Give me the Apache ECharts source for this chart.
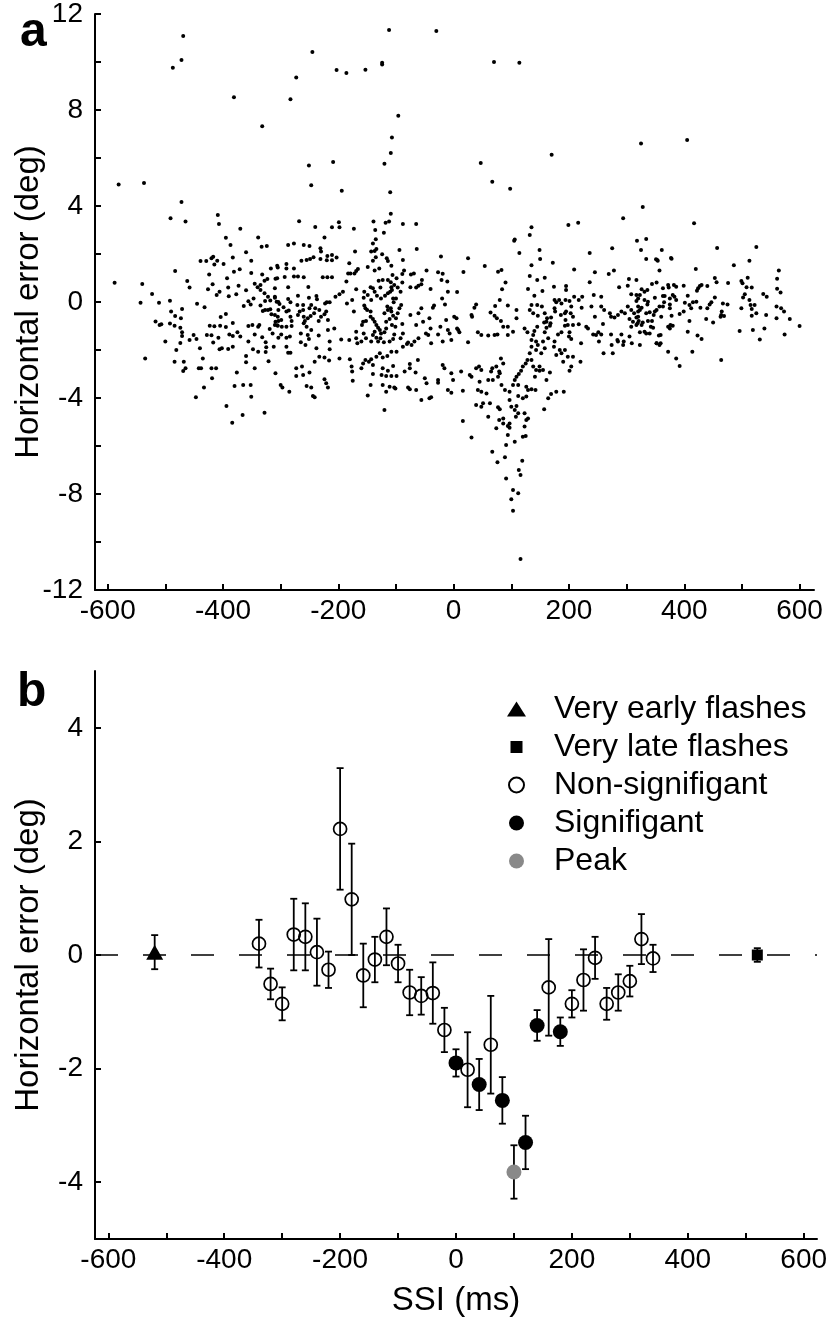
<!DOCTYPE html>
<html>
<head>
<meta charset="utf-8">
<title>Horizontal error vs SSI</title>
<script src="https://cdn.jsdelivr.net/npm/echarts@6/dist/echarts.min.js"></script>
<style>
  html, body { margin: 0; padding: 0; background: #fff; }
  #chart { width: 830px; height: 1330px; }
</style>
</head>
<body>
<div id="chart"></div>
<script>
// ---- panel a: single trials (SSI ms, horizontal error deg) ----
const trialPoints = [
  [-581,4.9],[-588,0.8],[-537,4.96],[-540,0.75],[-523,0.33],[-543,-0.03],[-511,-0.03],[-487,9.76],[-472,10.08],[-469,11.08],
  [-472,4.17],[-491,3.49],[-465,3.35],[-483,1.29],[-462,0.88],[-458,0.6],[-492,0.05],[-381,8.53],[-332,7.32],[-283,8.45],
  [-273,9.35],[-245,10.42],[-203,9.67],[-186,9.54],[-153,9.68],[-124,9.9],[-124,9.97],[-112,11.33],[-96,7.76],[-107,6.85],
  [-109,6.21],[-120,5.76],[-251,5.69],[-247,4.86],[-209,5.83],[-194,4.64],[-110,4.57],[-109,3.68],[-409,3.62],[-407,3.25],
  [-370,3.05],[-395,2.68],[-387,2.38],[-268,3.36],[-240,3.13],[-211,3.11],[-199,3.32],[-198,3.11],[-173,3.05],[-139,3.35],
  [-136,3.0],[-121,2.89],[-118,3.3],[-112,3.35],[-88,3.25],[-65,3.25],[-339,2.69],[-277,2.44],[-224,2.69],[-135,2.61],[-140,2.44],
  [-30,11.29],[70,10.0],[114,9.97],[47,5.79],[67,5.01],[98,4.72],[170,6.14],[325,6.6],[405,6.75],[328,3.96],
  [294,3.49],[417,3.28],[135,3.11],[132,2.79],[199,3.21],[216,3.3],[105,2.55],[106,2.6],[114,2.04],[-64,2.21],
  [-22,1.9],[25,1.82],[54,1.5],[17,1.25],[6,0.42],[275,2.24],[236,2.04],[149,2.17],[150,1.79],[135,1.53],
  [172,1.64],[318,2.55],[334,2.63],[325,2.17],[334,1.79],[351,1.78],[353,1.75],[361,2.17],[377,1.83],[378,1.8],
  [357,1.31],[420,1.38],[457,2.25],[486,1.53],[525,2.29],[513,1.72],[564,1.31],[561,0.97],[567,0.4],[561,0.55],
  [-360,2.07],[-333,2.3],[-324,2.33],[-439,1.71],[-429,1.71],[-420,1.82],[-417,1.89],[-410,1.72],[-415,1.56],[-399,1.58],
  [-383,1.85],[-351,1.72],[-424,1.15],[-426,0.53],[-418,0.74],[-411,0.29],[-406,0.43],[-393,0.99],[-381,1.26],[-371,1.36],
  [-391,0.6],[-390,0.24],[-377,0.32],[-373,0.68],[-360,0.49],[-351,1.21],[-345,0.76],[-340,0.61],[-335,0.71],[-332,1.15],
  [-328,0.89],[-323,0.96],[-317,1.4],[-309,0.97],[-305,1.44],[-335,0.5],[-328,0.36],[-322,0.22],[-356,0.03],[-347,0.15],
  [-335,-0.15],[-327,0.04],[-318,0.06],[-310,0.18],[-331,-0.38],[-327,-0.33],[-318,-0.3],[-364,-0.17],[-352,-0.1],[-471,-0.29],
  [-490,-0.4],[-483,-0.58],[-473,-0.68],[-517,-0.81],[-510,-0.96],[-507,-0.93],[-492,-0.9],[-484,-0.99],[-474,-1.07],[-471,-1.26],
  [-471,-1.42],[-500,-1.65],[-474,-1.71],[-451,-1.38],[-446,-1.54],[-458,-1.58],[-445,-0.07],[-432,-0.22],[-423,-0.99],[-415,-1.01],
  [-405,-0.99],[-395,-1.04],[-383,-0.88],[-404,-0.63],[-395,-0.5],[-428,-1.38],[-420,-1.39],[-408,-1.49],[-417,-1.69],[-389,-1.35],
  [-383,-1.42],[-375,-1.26],[-370,-1.44],[-356,-1.0],[-349,-0.96],[-339,-1.03],[-356,-1.65],[-345,-1.35],[-337,-0.96],[-332,-1.47],
  [-326,-1.68],[-319,-1.13],[-314,-1.31],[-309,-0.82],[-306,-0.97],[-322,-0.33],[-316,-0.51],[-310,-0.54],[-305,-0.61],
  [-287,2.38],[-260,2.38],[-250,2.33],[-231,2.24],[-230,2.1],[-171,2.1],[-143,2.1],[-137,2.13],[-134,2.21],[-124,1.99],
  [-116,1.82],[-114,1.71],[-94,2.17],[-264,1.72],[-255,1.75],[-249,1.79],[-243,1.86],[-231,1.79],[-219,1.92],[-211,1.96],
  [-203,1.85],[-220,1.74],[-211,1.74],[-181,1.61],[-166,1.38],[-169,1.29],[-179,1.19],[-140,1.72],[-135,1.86],[-149,1.46],
  [-137,1.31],[-129,1.4],[-108,1.51],[-88,1.75],[-86,1.31],[-74,1.15],[-69,1.19],[-47,1.31],[-27,1.24],[-19,1.18],
  [-306,1.51],[-290,1.4],[-277,1.4],[-290,1.58],[-277,1.06],[-270,1.06],[-260,1.03],[-227,1.03],[-219,1.03],[-211,1.03],
  [-306,0.99],[-293,1.04],[-287,0.61],[-252,0.63],[-186,0.85],[-183,1.19],[-172,1.19],[-169,0.53],[-155,0.43],[-144,0.61],
  [-140,0.57],[-130,0.89],[-123,0.92],[-127,0.6],[-114,0.92],[-109,0.82],[-106,1.13],[-108,0.61],[-107,0.5],[-110,0.43],
  [-103,0.71],[-99,0.99],[-89,0.81],[-89,1.17],[-75,0.61],[-65,0.6],[-61,0.68],[-56,0.74],[-55,0.92],[-40,0.54],
  [-21,0.92],[-11,0.85],[-10,0.43],[-310,0.22],[-307,0.01],[-287,0.13],[-283,-0.01],[-270,0.26],[-251,0.18],[-238,0.25],
  [-237,0.11],[-205,0.22],[-198,0.32],[-220,-0.01],[-215,-0.01],[-304,0.0],[-302,-0.08],[-304,-0.33],[-295,-0.22],[-290,-0.4],
  [-286,-0.35],[-283,-0.61],[-281,-0.79],[-304,-0.79],[-299,-0.75],[-310,-0.96],[-305,-0.99],[-298,-1.03],[-290,-1.03],[-281,-1.0],
  [-270,-0.54],[-267,-0.4],[-271,-0.13],[-261,-0.33],[-260,-0.61],[-258,-0.79],[-260,-0.89],[-255,-1.03],[-253,-0.68],[-248,-0.58],
  [-250,-0.26],[-242,-0.47],[-240,-0.26],[-247,-0.13],[-261,-0.13],[-233,-0.33],[-230,-0.61],[-234,-0.79],[-224,-0.51],[-221,-0.4],
  [-218,-0.75],[-223,-0.06],[-253,-1.38],[-251,-1.54],[-247,-1.17],[-265,-1.31],[-265,-1.68],[-284,-1.44],[-290,-1.49],[-304,-1.49],
  [-299,-1.35],[-234,-1.4],[-218,-1.17],[-207,-1.1],[-195,-1.56],[-215,-1.65],
  [-173,-0.4],[-169,-1.24],[-169,-1.51],[-181,-1.58],[-159,-0.96],[-157,-0.82],[-152,-0.79],[-153,-0.26],[-155,-0.15],[-150,-0.33],
  [-144,-0.4],[-144,-0.61],[-140,-0.71],[-137,-0.82],[-134,-0.96],[-131,-1.07],[-128,-1.17],[-137,-1.24],[-140,-1.38],[-134,-1.49],
  [-127,-1.51],[-126,-1.31],[-120,-1.26],[-117,-1.1],[-117,-0.82],[-120,-0.47],[-114,-0.33],[-115,-0.19],[-109,-0.26],[-108,-0.4],
  [-105,-0.57],[-111,-0.71],[-107,-0.96],[-101,-1.03],[-100,-0.68],[-97,-0.47],[-94,-0.26],[-91,-0.13],[-89,-0.92],[-88,-1.31],
  [-92,-1.51],[-103,-1.35],[-105,-1.54],[-111,-1.65],[-121,-1.68],[-131,-1.65],[-143,-1.65],[-152,-1.51],[-156,-1.31],[-160,-1.65],
  [-167,-1.72],[-75,-0.54],[-65,-0.96],[-61,-0.47],[-56,-0.26],[-53,-0.82],[-48,-1.31],[-40,-1.1],[-44,-1.38],[-36,-0.24],
  [-34,-0.15],[-27,-1.35],[-23,-1.03],[-20,0.15],[-15,-0.1],[-13,-0.75],[-10,-1.17],[-7,-1.31],[-4,-1.58],[1,-0.61],
  [5,-0.68],[6,-1.1],[-19,-1.65],[-39,-1.72],[-61,-1.51],[-68,-1.65],[-79,-1.69],[-42,-0.68],[-149,0.29],[-156,0.18],
  [-143,0.08],[-137,0.43],[-133,0.26],[-126,0.15],[-119,0.26],[-114,0.36],[-105,0.15],[-104,-0.01],[-100,0.15],[-92,0.43],
  [-97,0.6],[-192,0.43],[-176,0.08],[-185,-0.06],[-310,0.57],
  [77,1.26],[83,1.33],[209,1.35],[245,1.24],[269,1.17],[278,1.31],[304,0.96],[317,0.92],[90,0.81],[132,1.08],
  [145,0.92],[158,1.01],[84,0.53],[129,0.54],[154,0.46],[174,0.64],[195,0.67],[195,0.5],[236,0.82],[287,0.61],
  [302,0.68],[140,0.26],[209,0.22],[223,0.22],[243,0.29],[256,0.22],[308,0.32],[317,0.29],[175,0.08],[178,-0.01],
  [183,0.08],[187,-0.06],[194,0.08],[201,0.04],[204,-0.19],[217,0.08],[222,-0.24],[80,0.08],[94,-0.15],[72,-0.17],
  [39,-0.1],[36,-0.24],[31,-0.54],[32,-0.61],[64,-0.44],[71,-0.57],[75,-0.68],[82,-0.79],[86,-1.03],[94,-1.03],
  [109,-0.33],[109,-0.68],[123,-1.1],[132,-0.33],[135,-0.13],[145,-0.13],[153,-0.19],[158,-0.47],[138,-0.47],[146,-0.57],
  [157,-0.85],[161,-0.82],[168,-0.89],[167,-0.99],[161,-1.07],[169,-0.65],[162,-0.68],[145,-1.03],[140,-1.21],[138,-1.38],
  [135,-1.58],[143,-1.65],[128,-1.26],[158,-1.26],[164,-1.51],[155,-1.65],[181,-1.35],[187,-1.26],[201,-1.26],[200,-1.44],
  [204,-1.54],[175,-0.26],[176,-0.4],[186,-0.54],[193,-0.47],[195,-0.4],[203,-0.47],[207,-0.61],[194,-0.75],[198,-0.96],
  [193,-0.99],[207,-0.96],[217,-0.93],[230,-1.03],[233,-1.1],[239,-0.19],[256,-0.19],[261,-0.33],[245,-0.61],[259,-0.92],
  [251,-1.26],[256,-1.35],[271,-0.47],[273,-0.61],[279,-0.65],[285,-0.54],[291,-0.4],[297,-0.47],[302,-0.19],[308,-0.33],
  [313,-0.47],[305,-0.71],[311,-0.82],[317,-0.96],[308,-1.03],[273,-1.35],[284,-1.58],[291,-1.35],[295,-1.65],[242,-1.35],
  [247,-1.38],[317,-0.65],[321,-0.79],[320,-0.4],[10,-1.26],[8,-1.17],[25,-1.68],[42,-1.26],[48,-1.38],[60,-1.4],
  [71,-1.38],[76,-1.35],[94,-1.38],[103,-1.24],
  [354,1.72],[344,0.75],[352,0.81],[363,0.57],[372,0.71],[373,0.6],[382,0.71],[386,0.64],[399,0.68],[424,0.57],
  [427,0.67],[422,0.47],[430,0.71],[440,0.67],[453,1.0],[456,0.82],[476,0.79],[499,0.88],[501,0.78],[510,1.01],
  [508,0.61],[517,0.6],[537,0.33],[543,0.22],[505,0.32],[502,0.19],[326,0.53],[331,0.43],[323,0.29],[320,0.15],
  [317,0.04],[336,0.5],[331,0.08],[337,0.01],[336,-0.1],[320,-0.19],[323,-0.33],[326,-0.24],[349,0.18],[363,0.25],
  [366,0.25],[365,-0.01],[375,0.15],[380,0.29],[383,0.22],[386,0.08],[375,-0.1],[375,-0.26],[363,-0.19],[352,-0.33],
  [349,-0.4],[340,-0.43],[334,-0.47],[406,0.26],[401,-0.03],[409,-0.13],[415,-0.01],[412,-0.26],[421,0.01],[428,-0.24],
  [447,-0.01],[444,-0.1],[453,0.19],[467,-0.06],[475,-0.1],[440,-0.26],[438,-0.71],[450,-0.85],[465,-0.4],[464,-0.54],
  [469,-0.58],[463,-0.61],[499,-0.26],[513,0.08],[515,-0.13],[517,-0.29],[522,-0.13],[525,-0.47],[517,-0.57],[539,-1.1],
  [542,-0.54],[496,-1.21],[519,-1.17],[531,-1.56],[560,-0.19],[568,-0.26],[573,-0.4],[560,-0.68],[583,-0.71],[600,-1.0],
  [574,-1.35],[320,-0.61],[319,-0.89],[326,-0.96],[328,-0.85],[331,-1.24],[323,-1.26],[334,-1.31],[340,-1.31],[342,-1.03],
  [346,-1.07],[344,-0.79],[337,-0.79],[347,-0.54],[357,-0.19],[360,-0.61],[372,-1.03],[376,-0.96],[380,-0.99],[375,-1.1],
  [356,-1.4],[352,-1.72],[359,-1.72],[359,-1.38],[378,-0.57],[392,-0.5],[399,-0.4],[409,-0.79],[406,-1.24],[423,-1.4],[430,-1.54],
  [-535,-2.35],[-481,-2.0],[-484,-2.49],[-468,-2.49],[-469,-2.88],[-465,-2.76],[-440,-1.93],[-435,-2.35],[-438,-2.76],[-442,-2.76],
  [-433,-3.56],[-447,-3.97],[-420,-2.76],[-412,-2.76],[-419,-3.18],[-406,-1.97],[-402,-1.93],[-391,-1.96],[-383,-1.86],[-394,-4.33],
  [-384,-5.03],[-366,-4.71],[-380,-3.5],[-365,-3.46],[-352,-3.46],[-351,-3.95],[-376,-2.94],[-360,-2.25],[-360,-2.51],[-345,-2.76],
  [-348,-1.97],[-339,-2.07],[-326,-2.08],[-325,-1.89],[-321,-2.47],[-328,-4.61],[-309,-2.97],[-300,-3.46],[-297,-3.56],[-285,-3.74],
  [-312,-1.86],[-287,-2.11],[-283,-2.11],[-290,-1.86],[-273,-2.76],[-273,-3.08],[-261,-3.04],[-263,-2.69],[-250,-2.94],[-255,-3.5],
  [-247,-3.56],[-244,-3.92],[-241,-3.97],[-257,-1.79],[-238,-1.93],[-241,-2.49],[-233,-2.28],[-224,-3.22],[-221,-3.39],[-218,-3.56],
  [-224,-2.31],[-216,-2.44],[-215,-1.97],[-198,-2.35],[-180,-2.39],[-177,-2.69],[-176,-2.9],[-175,-3.28],[-160,-2.76],[-153,-2.42],
  [-157,-2.56],[-147,-2.49],[-143,-2.39],[-140,-2.63],[-149,-3.9],[-144,-3.46],[-140,-3.0],[-120,-4.5],[-123,-3.46],[-117,-3.74],
  [-111,-3.53],[-103,-3.56],[-101,-3.6],[-134,-2.28],[-128,-2.14],[-123,-2.31],[-115,-2.25],[-108,-2.07],[-99,-2.07],[-125,-3.04],
  [-117,-3.08],[-108,-3.08],[-99,-3.08],[-123,-2.76],[-114,-2.86],[-105,-2.67],[-79,-3.56],[-76,-3.64],[-65,-3.67],[-85,-2.9],
  [-76,-2.76],[-66,-2.94],[-88,-1.86],[-81,-1.75],[-73,-1.79],[-62,-2.42],[-76,-2.58],
  [-56,-4.08],[-42,-4.01],[-39,-3.97],[-50,-3.18],[-47,-3.39],[-27,-3.25],[-27,-3.36],[-19,-2.63],[-10,-3.67],[-4,-3.78],
  [-1,-3.25],[-4,-2.97],[-16,-2.76],[13,-2.9],[16,-3.7],[28,-3.04],[31,-3.11],[31,-5.65],[16,-4.96],[39,-2.76],
  [44,-2.69],[48,-2.83],[45,-3.32],[42,-3.67],[48,-3.74],[39,-4.29],[48,-4.36],[60,-4.78],[51,-4.22],[57,-3.81],
  [63,-4.22],[60,-3.25],[68,-3.25],[65,-2.9],[67,-2.76],[74,-2.69],[77,-3.11],[80,-2.97],[82,-2.35],[86,-2.56],
  [79,-2.9],[83,-3.46],[89,-3.67],[77,-4.39],[80,-4.47],[86,-4.85],[79,-4.92],[74,-5.26],[86,-5.06],[97,-5.06],
  [94,-5.17],[97,-5.24],[94,-5.54],[106,-5.82],[91,-5.96],[67,-6.24],[76,-6.68],[89,-6.47],[91,-7.35],[103,-7.83],
  [112,-7.97],[100,-8.22],[103,-8.7],[113,-7.0],[116,-7.21],[119,-6.61],[116,-10.71],[120,-5.61],[125,-5.58],[123,-5.19],
  [126,-4.92],[123,-4.64],[129,-4.85],[126,-3.94],[120,-4.01],[112,-3.92],[109,-4.33],[106,-4.5],[112,-4.64],[108,-4.78],
  [100,-4.36],[97,-4.08],[97,-3.74],[103,-3.46],[112,-3.46],[106,-3.25],[109,-3.11],[113,-3.0],[117,-2.86],[120,-2.69],
  [125,-2.56],[128,-2.42],[135,-2.42],[132,-2.14],[135,-1.86],[143,-2.0],[138,-2.69],[143,-2.83],[149,-2.86],[141,-3.11],
  [126,-3.53],[129,-3.67],[135,-3.64],[142,-3.67],[161,-3.25],[167,-2.94],[164,-4.01],[169,-3.83],[178,-3.74],[191,-3.74],
  [157,-4.47],[155,-2.83],[149,-2.69],[152,-2.14],[158,-1.93],[146,-1.79],[175,-1.65],[174,-1.86],[184,-2.0],[178,-2.21],
  [187,-2.14],[193,-2.0],[190,-2.49],[198,-2.28],[207,-2.28],[201,-2.86],[204,-2.69],[220,-2.49],[221,-1.72],[252,-1.65],
  [260,-2.14],[276,-2.14],[274,-1.79],[285,-1.65],[294,-1.79],[305,-1.44],[309,-1.72],[323,-1.79],[352,-1.72],[357,-1.79],
  [372,-2.07],[386,-2.35],[392,-2.67],[414,-2.07],[464,-2.42]
];

// ---- panel b: binned means (SSI ms, mean error deg, error-bar half length deg) ----
const nsSsi  = [-340,-320,-300,-280,-260,-240,-220,-200,-180,-160,-140,-120,-100,-80,-60,-40,-20,20,60,160,200,220,240,260,280,300,320,340];
const nsMean = [0.2,-0.51,-0.86,0.36,0.32,0.05,-0.26,2.22,0.98,-0.36,-0.08,0.32,-0.15,-0.66,-0.72,-0.67,-1.32,-2.02,-1.58,-0.57,-0.86,-0.44,-0.05,-0.86,-0.66,-0.46,0.28,-0.06];
const nsErr  = [0.42,0.27,0.29,0.63,0.59,0.59,0.32,1.07,0.98,0.56,0.4,0.5,0.33,0.4,0.33,0.54,0.39,0.66,0.86,0.85,0.24,0.54,0.37,0.28,0.32,0.27,0.44,0.24];
const sigSsi  = [0,40,80,120,140,180];
const sigMean = [-1.9,-2.28,-2.56,-3.3,-1.24,-1.35];
const sigErr  = [0.24,0.45,0.41,0.47,0.27,0.25];
const peakSsi = [100], peakMean = [-3.82], peakErr = [0.47];
const earlySsi = [-520], earlyMean = [0.05], earlyErr = [0.3];
const lateSsi = [520], lateMean = [0.0], lateErr = [0.12];

const xTicks = [-600,-500,-400,-300,-200,-100,0,100,200,300,400,500,600];
const xLabels = [-600,-400,-200,0,200,400,600];
const yTicksA = [-12,-10,-8,-6,-4,-2,0,2,4,6,8,10,12];
const yLabelsA = [-12,-8,-4,0,4,8,12];
const yTicksB = [-4,-2,0,2,4];
const legendNames = ['Very early flashes','Very late flashes','Non-signifigant','Signifigant','Peak'];

const FONT = 'Liberation Sans, Arial, Helvetica, sans-serif';
const INK = '#000';

function pairs(xs, ys) { return xs.map((x, i) => [x, ys[i]]); }

// error bars for all groups: [ssi, low, high]
const barRows = [];
[[nsSsi,nsMean,nsErr],[sigSsi,sigMean,sigErr],[peakSsi,peakMean,peakErr],[earlySsi,earlyMean,earlyErr],[lateSsi,lateMean,lateErr]]
  .forEach(([xs, ms, es]) => xs.forEach((x, i) => barRows.push([x, ms[i] - es[i], ms[i] + es[i]])));

function xAxisOf(grid, min, max, extra) {
  return Object.assign({
    gridIndex: grid, type: 'value', min: min, max: max,
    axisLine: { show: true, onZero: false, lineStyle: { color: INK, width: 2 } },
    axisTick: { show: true, inside: true, length: 6, customValues: xTicks, lineStyle: { color: INK, width: 2 } },
    axisLabel: { customValues: xLabels, color: INK, fontSize: 28, fontFamily: FONT, margin: 7 },
    splitLine: { show: false }
  }, extra || {});
}

function yAxisOf(grid, min, max, ticks, labels) {
  return {
    gridIndex: grid, type: 'value', min: min, max: max,
    name: 'Horizontal error (deg)', nameLocation: 'middle', nameGap: 50, nameMoveOverlap: false,
    nameTextStyle: { color: INK, fontSize: 33, fontFamily: FONT },
    axisLine: { show: true, onZero: false, lineStyle: { color: INK, width: 2 } },
    axisTick: { show: true, inside: true, length: 6, customValues: ticks, lineStyle: { color: INK, width: 2 } },
    axisLabel: { customValues: labels, color: INK, fontSize: 28, fontFamily: FONT, margin: 12 },
    splitLine: { show: false }
  };
}

const chart = echarts.init(document.getElementById('chart'), null, { renderer: 'canvas' });

chart.setOption({
  animation: false,
  backgroundColor: '#fff',
  textStyle: { fontFamily: FONT },
  title: [
    { text: 'a', left: 15, top: 4, textStyle: { fontSize: 48, fontWeight: 'bold', color: INK, fontFamily: FONT } },
    { text: 'b', left: 12, top: 664, textStyle: { fontSize: 48, fontWeight: 'bold', color: INK, fontFamily: FONT } }
  ],
  grid: [
    { left: 95, top: 14, width: 719, height: 576, outerBoundsMode: 'none', containLabel: false },
    { left: 95, top: 671, width: 722, height: 568, outerBoundsMode: 'none', containLabel: false }
  ],
  legend: {
    orient: 'vertical', left: 502, top: 688,
    itemWidth: 19, itemHeight: 15, itemGap: 6,
    selectedMode: false,
    itemStyle: { opacity: 1 },
    textStyle: { fontSize: 32, color: INK, fontFamily: FONT, padding: [0, 0, 0, 23] },
    data: [
      { name: legendNames[0], icon: 'triangle' },
      { name: legendNames[1], icon: 'path://M0,0M19,15M3.5,1.5h12v12h-12z' },
      { name: legendNames[2], icon: 'circle' },
      { name: legendNames[3], icon: 'circle' },
      { name: legendNames[4], icon: 'circle' }
    ]
  },
  xAxis: [
    xAxisOf(0, -622, 625),
    xAxisOf(1, -623, 623, {
      name: 'SSI (ms)', nameLocation: 'middle', nameGap: 45, nameMoveOverlap: false,
      nameTextStyle: { color: INK, fontSize: 33, fontFamily: FONT }
    })
  ],
  yAxis: [
    yAxisOf(0, -12, 12, yTicksA, yLabelsA),
    yAxisOf(1, -5, 5, yTicksB, yTicksB)
  ],
  series: [
    {
      type: 'scatter', name: 'trials', xAxisIndex: 0, yAxisIndex: 0,
      symbol: 'circle', symbolSize: 4, silent: true,
      itemStyle: { color: INK, opacity: 1 },
      data: trialPoints
    },
    {
      type: 'line', name: 'zero', xAxisIndex: 1, yAxisIndex: 1,
      data: [[-623, 0], [623, 0]], symbol: 'none', silent: true, z: 1,
      lineStyle: { color: INK, width: 1.6, type: [23, 25], opacity: 1 }
    },
    {
      type: 'custom', name: 'sem', xAxisIndex: 1, yAxisIndex: 1, silent: true, z: 2,
      data: barRows,
      renderItem: function (params, api) {
        const x = api.value(0);
        const lo = api.coord([x, api.value(1)]);
        const hi = api.coord([x, api.value(2)]);
        const cap = 3.5;
        const st = { stroke: INK, lineWidth: 1.8 };
        return {
          type: 'group',
          children: [
            { type: 'line', shape: { x1: hi[0], y1: hi[1], x2: lo[0], y2: lo[1] }, style: st },
            { type: 'line', shape: { x1: hi[0] - cap, y1: hi[1], x2: hi[0] + cap, y2: hi[1] }, style: st },
            { type: 'line', shape: { x1: lo[0] - cap, y1: lo[1], x2: lo[0] + cap, y2: lo[1] }, style: st }
          ]
        };
      }
    },
    {
      type: 'scatter', name: legendNames[0], xAxisIndex: 1, yAxisIndex: 1, z: 3,
      symbol: 'triangle', symbolSize: [17, 15], itemStyle: { color: INK, opacity: 1 },
      data: pairs(earlySsi, earlyMean)
    },
    {
      type: 'scatter', name: legendNames[1], xAxisIndex: 1, yAxisIndex: 1, z: 3,
      symbol: 'rect', symbolSize: 11, itemStyle: { color: INK, opacity: 1 },
      data: pairs(lateSsi, lateMean)
    },
    {
      type: 'scatter', name: legendNames[2], xAxisIndex: 1, yAxisIndex: 1, z: 3,
      symbol: 'circle', symbolSize: 13,
      itemStyle: { color: 'rgba(255,255,255,0)', borderColor: INK, borderWidth: 1.7, opacity: 1 },
      data: pairs(nsSsi, nsMean)
    },
    {
      type: 'scatter', name: legendNames[3], xAxisIndex: 1, yAxisIndex: 1, z: 3,
      symbol: 'circle', symbolSize: 15, itemStyle: { color: INK, opacity: 1 },
      data: pairs(sigSsi, sigMean)
    },
    {
      type: 'scatter', name: legendNames[4], xAxisIndex: 1, yAxisIndex: 1, z: 3,
      symbol: 'circle', symbolSize: 15, itemStyle: { color: '#898989', opacity: 1 },
      data: pairs(peakSsi, peakMean)
    }
  ]
});
</script>
</body>
</html>
